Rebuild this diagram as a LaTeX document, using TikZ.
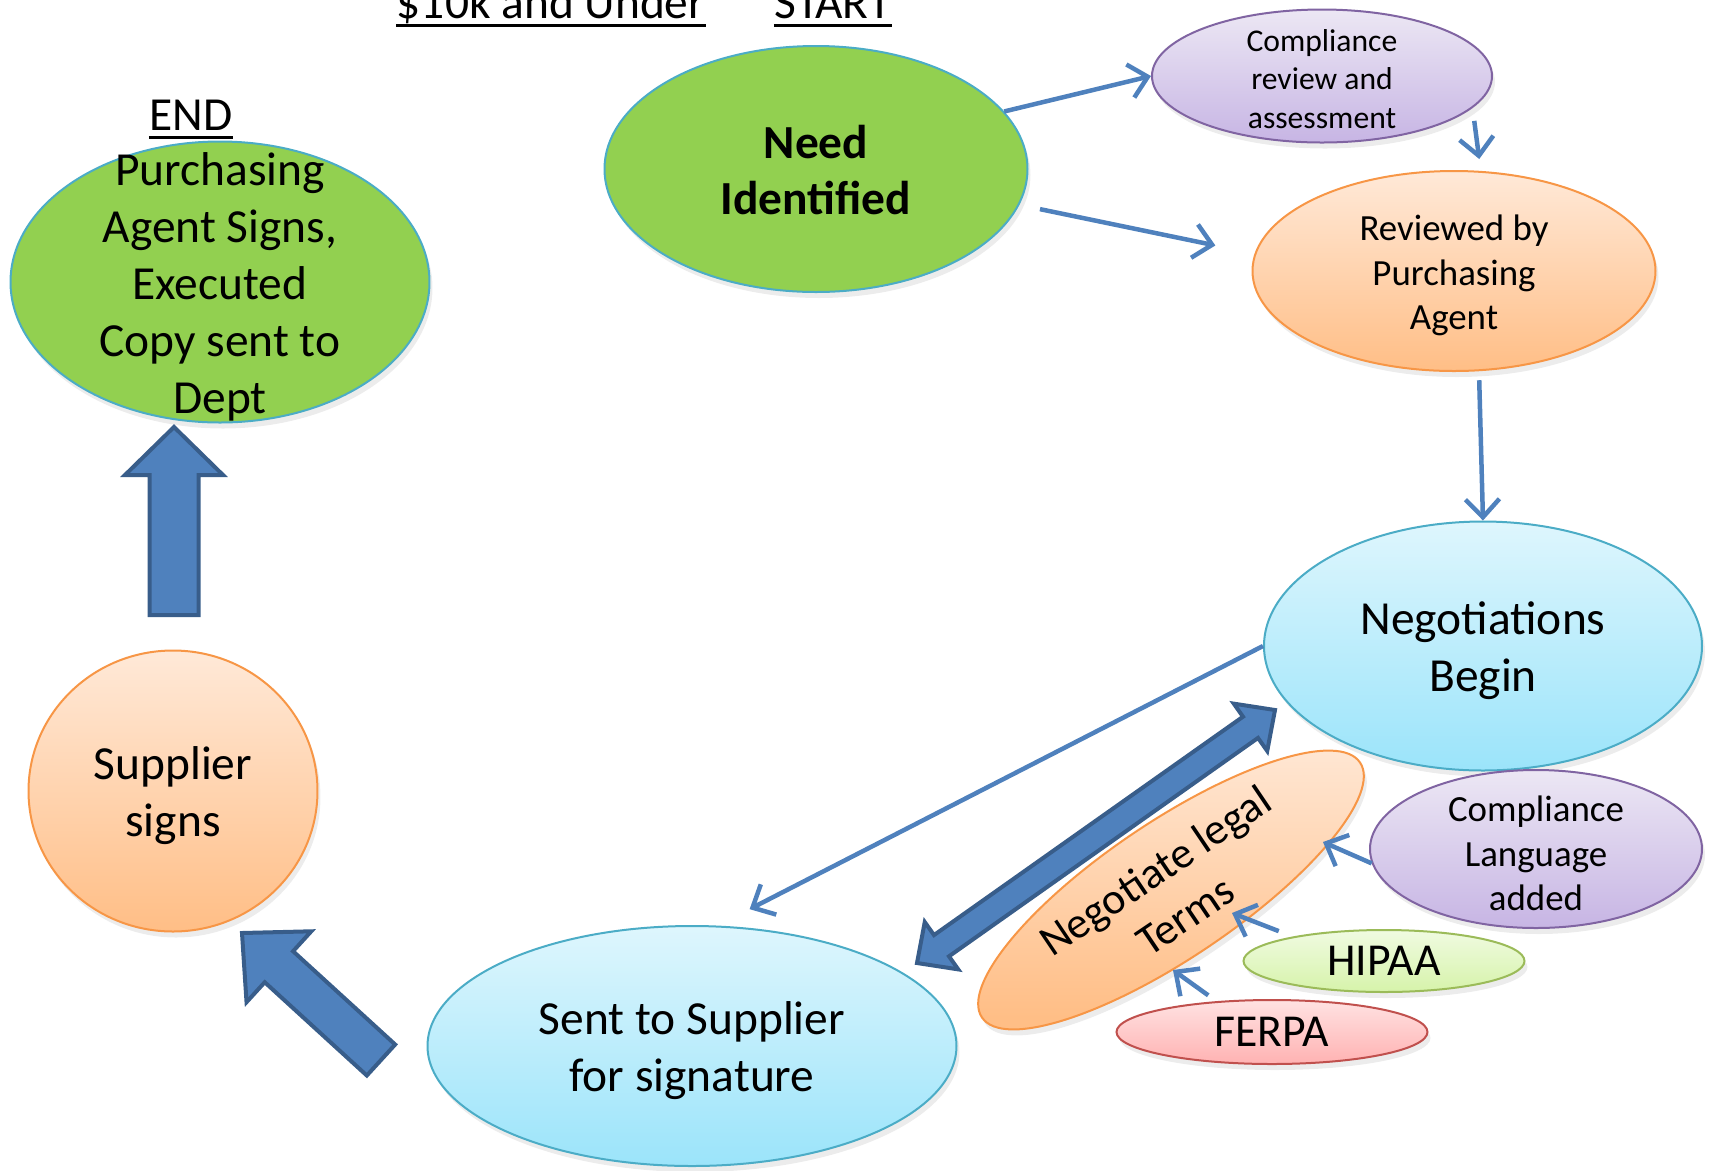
\documentclass[tikz,border=0pt]{standalone}
\usepackage{fontspec}
\setmainfont{Carlito}
\usetikzlibrary{arrows.meta,calc,shapes.geometric,shadows}

\definecolor{arrowblue}{RGB}{79,129,189}
\definecolor{blockline}{RGB}{56,93,138}
\definecolor{leafgreen}{RGB}{146,208,80}
\definecolor{rimblue}{RGB}{75,172,198}
\definecolor{orangeline}{RGB}{247,150,70}
\definecolor{orangetop}{RGB}{255,233,216}
\definecolor{orangebot}{RGB}{255,190,134}
\definecolor{skytop}{RGB}{222,246,253}
\definecolor{skybot}{RGB}{155,228,250}
\definecolor{lilacline}{RGB}{128,100,162}
\definecolor{lilactop}{RGB}{236,231,244}
\definecolor{lilacbot}{RGB}{199,181,228}
\definecolor{limeline}{RGB}{155,187,89}
\definecolor{limetop}{RGB}{240,251,225}
\definecolor{limebot}{RGB}{214,243,170}
\definecolor{roseline}{RGB}{192,80,77}
\definecolor{rosetop}{RGB}{255,226,226}
\definecolor{rosebot}{RGB}{255,178,178}

% block arrows: tail, tip, half shaft, half head, head length
\newcommand{\fatarrow}[5]{%
  \coordinate (hb) at ($(#2)!#5!(#1)$);
  \draw[blockarr] ($(#1)!#3!90:(#2)$) -- ($(hb)!#3!90:(#2)$) -- ($(hb)!#4!90:(#2)$) -- (#2)
    -- ($(hb)!#4!-90:(#2)$) -- ($(hb)!#3!-90:(#2)$) -- ($(#1)!#3!-90:(#2)$) -- cycle;}
\newcommand{\fatdoublearrow}[5]{%
  \coordinate (ha) at ($(#1)!#5!(#2)$);
  \coordinate (hb) at ($(#2)!#5!(#1)$);
  \draw[blockarr] (#1) -- ($(ha)!#4!90:(#2)$) -- ($(ha)!#3!90:(#2)$) -- ($(hb)!#3!90:(#2)$)
    -- ($(hb)!#4!90:(#2)$) -- (#2) -- ($(hb)!#4!-90:(#2)$) -- ($(hb)!#3!-90:(#2)$)
    -- ($(ha)!#3!-90:(#2)$) -- ($(ha)!#4!-90:(#2)$) -- cycle;}

\tikzset{
  oval/.style={ellipse, draw, line width=0.2mm, inner sep=0pt,
    drop shadow={opacity=0.15, shadow xshift=0.3mm, shadow yshift=-0.6mm}},
  greenoval/.style={oval, draw=rimblue, fill=leafgreen},
  orangeoval/.style={oval, draw=orangeline, top color=orangetop, bottom color=orangebot},
  skyoval/.style={oval, draw=rimblue, top color=skytop, bottom color=skybot},
  lilacoval/.style={oval, draw=lilacline, top color=lilactop, bottom color=lilacbot},
  limeoval/.style={oval, draw=limeline, top color=limetop, bottom color=limebot},
  roseoval/.style={oval, draw=roseline, top color=rosetop, bottom color=rosebot},
  txt/.style={align=center, inner sep=0pt},
  bigtxt/.style={txt, yshift=-0.5mm, font=\fontsize{13.5}{16.2}\selectfont},
  midtxt/.style={txt, yshift=-0.45mm, font=\fontsize{10.5}{12.7}\selectfont},
  heading/.style={inner sep=0pt, anchor=base, font=\fontsize{13.5}{16}\selectfont},
  flow/.style={draw=arrowblue, line width=0.45mm, -{Straight Barb[length=1.8mm,width=3.4mm]}},
  blockarr/.style={draw=blockline, fill=arrowblue, line width=0.4mm, line join=miter}
}

\begin{document}
\begin{tikzpicture}[x=0.1mm, y=-0.1mm]
  \useasboundingbox (0,0) rectangle (1709,1170);

  % headings
  \node[heading] (limit) at (551,18) {\$10k and Under};
  \node[heading] (start) at (833,18) {START};
  \node[heading] (finish) at (191,130) {END};
  \foreach \h in {limit, start, finish}
    \draw[line width=0.3mm] ([yshift=-0.7mm]\h.base west) -- ([yshift=-0.7mm]\h.base east);

  % ovals
  \node[greenoval, minimum width=42.3mm, minimum height=24.6mm] (need) at (816,169) {};
  \node[lilacoval, minimum width=34mm, minimum height=13.3mm] (review) at (1322,76) {};
  \node[orangeoval, minimum width=40.3mm, minimum height=20mm] (reviewed) at (1454,271) {};
  \node[skyoval, minimum width=43.8mm, minimum height=24.9mm] (nego) at (1483,646) {};
  \node[orangeoval, rotate=34, minimum width=45.6mm, minimum height=13.6mm] (negot) at (1171,890) {};
  \node[lilacoval, minimum width=33.2mm, minimum height=15.8mm] (lang) at (1536,849) {};
  \node[limeoval, minimum width=28.1mm, minimum height=6.2mm] (hipaa) at (1384,961) {};
  \node[roseoval, minimum width=31.1mm, minimum height=6.4mm] (ferpa) at (1272,1032) {};
  \node[skyoval, minimum width=52.9mm, minimum height=24mm] (sent) at (692,1046) {};
  \node[orangeoval, minimum width=28.9mm, minimum height=28.1mm] (supplier) at (173,791) {};
  \node[greenoval, minimum width=41.9mm, minimum height=28.1mm] (endn) at (220,282) {};

  % thin arrows
  \coordinate (t1) at (1323,842);
  \coordinate (t2) at (1232,913);
  \coordinate (t3) at (1173,970);
  \draw[flow] (need.17) -- (review.west);
  \draw[flow, shorten <=2.1mm, shorten >=4mm] (need.-10) -- (reviewed.175);
  \draw[flow, shorten <=1.3mm, shorten >=1.2mm] (review.-12) -- (reviewed.75);
  \draw[flow, shorten <=0.9mm] (reviewed.-76) -- (nego.north);
  \draw[flow, shorten >=3.6mm] (nego.west) -- (sent.78);
  \draw[flow] (lang.185) -- (t1);
  \draw[flow, shorten <=1.5mm] (hipaa.165) -- (t2);
  \draw[flow, shorten <=1mm] (ferpa.151) -- (t3);

  % block arrows
  \coordinate (upTail) at (174,615);
  \coordinate (upTip) at (174,427);
  \coordinate (diagTail) at (381,1060);
  \coordinate (diagTip) at (242,933);
  \coordinate (dblLow) at (917,963);
  \coordinate (dblHigh) at (1275,710);
  \fatarrow{upTail}{upTip}{2.45mm}{4.9mm}{4.8mm}
  \fatarrow{diagTail}{diagTip}{2.1mm}{4.8mm}{5mm}
  \fatdoublearrow{dblLow}{dblHigh}{1.3mm}{2.9mm}{3mm}

  % texts
  \node[txt, yshift=-0.1mm, font=\fontsize{13.5}{16.2}\selectfont\bfseries] (needtxt) at (need) {Need\\Identified};
  \node[txt, font=\fontsize{9}{11}\selectfont] (reviewtxt) at (1322,79) {Compliance\\review and\\assessment};
  \node[midtxt] (reviewedtxt) at (reviewed) {Reviewed by\\Purchasing\\Agent};
  \node[bigtxt] (negotxt) at (nego) {Negotiations\\Begin};
  \node[txt, rotate=34, font=\fontsize{12.5}{15.4}\selectfont] (negottxt) at (1170,893) {Negotiate legal\\Terms};
  \node[midtxt] (langtxt) at (lang) {Compliance\\Language\\added};
  \node[txt, font=\fontsize{13}{15}\selectfont] (hipaatxt) at (hipaa) {HIPAA};
  \node[txt, font=\fontsize{13}{15}\selectfont] (ferpatxt) at (ferpa) {FERPA};
  \node[bigtxt] (senttxt) at (sent) {Sent to Supplier\\for signature};
  \node[bigtxt] (suppliertxt) at (supplier) {Supplier\\signs};
  \node[bigtxt] (endtxt) at (endn) {Purchasing\\Agent Signs,\\Executed\\Copy sent to\\Dept};
\end{tikzpicture}
\end{document}
